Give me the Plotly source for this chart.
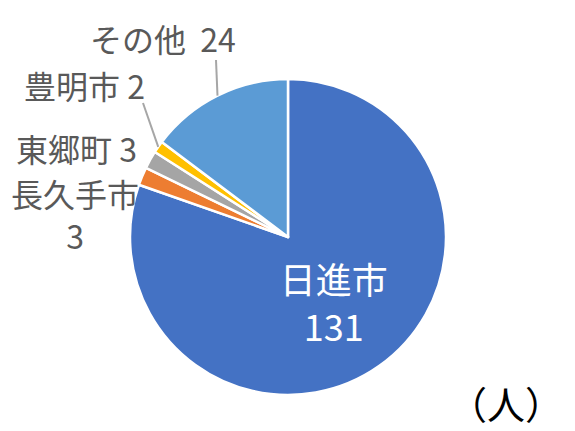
import math
import plotly.graph_objects as go

labels = ["日進市", "長久手市", "東郷町", "豊明市", "その他"]
values = [131, 3, 3, 2, 24]
colors = ["#4472C4", "#ED7D31", "#A5A5A5", "#FFC000", "#5B9BD5"]

W, H = 575, 431
OFF = 8  # page body margin
cx, cy, r = 288, 237, 158  # pie centre / radius in screen pixels

font = "Noto Sans CJK JP, Noto Sans, sans-serif"


def px(x, y):
    return (x - OFF) / W, 1 - (y - OFF) / H


x0d, y1d = px(cx - r, cy - r)
x1d, y0d = px(cx + r, cy + r)

fig = go.Figure(go.Pie(
    labels=labels,
    values=values,
    sort=False,
    direction="clockwise",
    rotation=0,
    marker=dict(colors=colors, line=dict(color="white", width=2.5)),
    texttemplate=["%{label}<br>%{value}", "", "", "", ""],
    textposition="inside",
    insidetextorientation="horizontal",
    textfont=dict(color="white", size=36, family=font),
    showlegend=False,
    hoverinfo="label+value",
    domain=dict(x=[x0d, x1d], y=[y0d, y1d]),
))


def edge(i):
    # mid angle of slice i, clockwise from 12 o'clock
    tot = sum(values)
    mid = (sum(values[:i]) + values[i] / 2) / tot * 2 * math.pi
    return cx + r * math.sin(mid), cy - r * math.cos(mid)


grey = "#595959"
ann = [
    # label index, text, x, y, line end (or None)
    (4, f"{labels[4]}  {values[4]}", 163, 38, (216, 60)),
    (3, f"{labels[3]} {values[3]}", 85, 85, (143, 103)),
    (2, f"{labels[2]} {values[2]}", 76, 148, None),
    (1, f"{labels[1]}<br>{values[1]}", 75, 214, None),
]
for i, txt, x, y, end in ann:
    ax, ay = px(x, y)
    fig.add_annotation(x=ax, y=ay, xref="paper", yref="paper", text=txt,
                       showarrow=False, font=dict(size=32, color=grey, family=font),
                       xanchor="center", yanchor="middle")
    if end:
        ex, ey = edge(i)
        lx0, ly0 = px(ex, ey)
        lx1, ly1 = px(*end)
        fig.add_shape(type="line", xref="paper", yref="paper", x0=lx0, y0=ly0, x1=lx1, y1=ly1,
                      line=dict(color="#A6A6A6", width=2))

ux, uy = px(565, 432)
fig.add_annotation(x=ux, y=uy, xref="paper", yref="paper",
                   text="（人）", showarrow=False, xanchor="right", yanchor="bottom",
                   font=dict(size=38, color="black", family=font))

fig.update_layout(width=W, height=H, margin=dict(l=0, r=0, t=0, b=0),
                  paper_bgcolor="white", plot_bgcolor="white")

fig.write_html("out.html")
